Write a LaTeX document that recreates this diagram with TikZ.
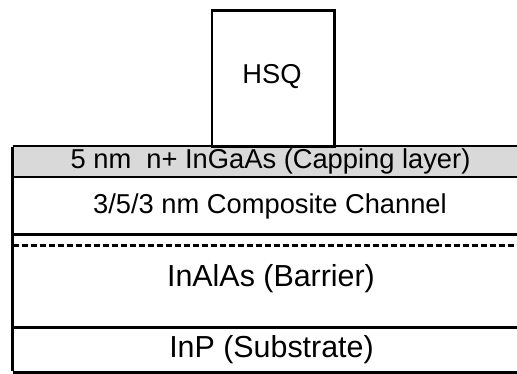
\documentclass[tikz,border=0pt]{standalone}
\usepackage{fontspec}
\setmainfont{Liberation Sans}
\definecolor{capgray}{RGB}{217,217,217}
\begin{document}
\begin{tikzpicture}[x=1pt,y=-1pt,
  edge/.style={line width=2.7pt},
  lbl/.style={inner sep=0pt, anchor=center},
  small/.style={font=\fontsize{27.3}{30}\selectfont},
  big/.style={font=\fontsize{30.4}{33}\selectfont}]
\useasboundingbox (0,0) rectangle (517,374);
% capping fill
\fill[capgray] (12.7,146) rectangle (517,177);
% HSQ block
\node[draw, line width=2.7pt, minimum width=122.3pt, minimum height=135.5pt, inner sep=0pt, anchor=north west] (hsq) at (210.7,9.5) {};
\node[lbl, small] (hsqt) at (272,76.5) {HSQ};
% layer boundaries
\coordinate (tl) at (12.7,146);
\coordinate (tr) at (517,146);
\coordinate (c1l) at (12.7,177);
\coordinate (c1r) at (517,177);
\coordinate (c2l) at (12.7,234.5);
\coordinate (c2r) at (517,234.5);
\coordinate (dl) at (12.7,245.8);
\coordinate (dr) at (517,245.8);
\coordinate (c3l) at (12.7,327.7);
\coordinate (c3r) at (517,327.7);
\coordinate (bl) at (12.7,372.4);
\coordinate (br) at (517,372.4);
\draw[edge] (tl) -- (tr);
\draw[edge] (c1l) -- (c1r);
\draw[edge] (c2l) -- (c2r);
\draw[edge, dash pattern=on 6pt off 3pt] (dl) -- (dr);
\draw[edge] (c3l) -- (c3r);
\draw[edge] (bl) -- (br);
\draw[edge] ([yshift=-1.35pt]tl) -- ([yshift=1.35pt]bl);
% labels
\node[lbl, small] (cap) at (270.5,161.5) {5 nm\ \ n+ InGaAs (Capping layer)};
\node[lbl, small] (chan) at (270,206) {3/5/3 nm Composite Channel};
\node[lbl, big] (barr) at (271,278.5) {InAlAs (Barrier)};
\node[lbl, big] (sub) at (271.5,350) {InP (Substrate)};
\end{tikzpicture}
\end{document}
